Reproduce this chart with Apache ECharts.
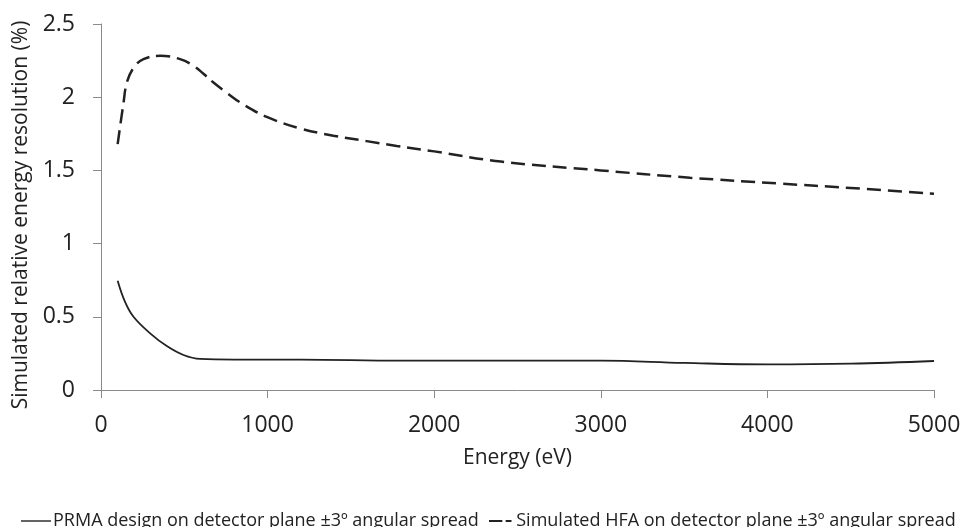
<!DOCTYPE html>
<html>
<head>
<meta charset="utf-8">
<script src="https://cdn.jsdelivr.net/npm/echarts@6/dist/echarts.min.js"></script>
<style>html,body{margin:0;padding:0;background:#fff}#c{width:969px;height:527px}</style>
</head>
<body>
<div id="c"></div>
<script>
var seriesNames = [
  "PRMA design on detector plane \u00b13\u00ba angular spread",
  "Simulated HFA on detector plane \u00b13\u00ba angular spread"
];
var prmaEnergy = [100, 145, 195, 295, 395, 495, 595, 800, 1200, 1800, 2500, 3000, 3500, 4000, 4500, 5000];
var prmaValues = [0.747, 0.60, 0.50, 0.387, 0.30, 0.239, 0.212, 0.208, 0.208, 0.200, 0.200, 0.200, 0.185, 0.175, 0.180, 0.198];
var hfaEnergy = [100, 135, 155, 195, 255, 355, 475, 555, 615, 675, 755, 855, 995, 1195, 1395, 1595, 1775, 2000, 2400, 3000, 3535, 4075, 4500, 5000];
var hfaValues = [1.68, 1.96, 2.10, 2.20, 2.26, 2.283, 2.26, 2.215, 2.16, 2.10, 2.03, 1.95, 1.865, 1.787, 1.737, 1.70, 1.667, 1.63, 1.56, 1.50, 1.45, 1.41, 1.38, 1.34];
var xTicks = [0, 1000, 2000, 3000, 4000, 5000];
var yTicks = [0, 0.5, 1, 1.5, 2, 2.5];

function pairs(xs, ys) { return xs.map(function (x, i) { return [x, ys[i]]; }); }

var FONT = "Open Sans";
var TXT = "#222";
var AX = "#8a8a8a";
var LINE = "#222";

var chart = echarts.init(document.getElementById('c'), null, {renderer: 'canvas'});
chart.setOption({
  animation: false,
  backgroundColor: '#fff',
  grid: {left: 101, right: 35, top: 24, bottom: 137, containLabel: false},
  xAxis: {
    type: 'value', min: xTicks[0], max: xTicks[xTicks.length - 1], interval: 1000,
    name: 'Energy (eV)', nameLocation: 'middle', nameGap: 58,
    nameTextStyle: {fontFamily: FONT, fontSize: 21, color: TXT},
    axisLine: {show: true, lineStyle: {color: AX, width: 1}},
    axisTick: {show: true, inside: false, length: 8, lineStyle: {color: AX}},
    axisLabel: {fontFamily: FONT, fontSize: 23, color: TXT, margin: 24,
      formatter: function (v) { return String(v); }},
    splitLine: {show: false}
  },
  yAxis: {
    type: 'value', min: yTicks[0], max: yTicks[yTicks.length - 1], interval: 0.5,
    name: 'Simulated relative energy resolution (%)', nameLocation: 'middle', nameGap: 65,
    nameTextStyle: {fontFamily: FONT, fontSize: 21, color: TXT, padding: [0, 16, 0, 0]},
    axisLine: {show: true, lineStyle: {color: AX, width: 1}},
    axisTick: {show: true, inside: false, length: 8, lineStyle: {color: AX}},
    axisLabel: {fontFamily: FONT, fontSize: 23, color: TXT, margin: 26},
    splitLine: {show: false}
  },
  legend: [
    {
      top: 507, left: 16, itemGap: 0, itemWidth: 30, itemHeight: 2,
      textStyle: {fontFamily: FONT, fontSize: 18, color: TXT, padding: [0, 0, 0, -3]},
      data: [{name: seriesNames[0], icon: 'path://M0,0H30V1.4H0Z', itemStyle: {color: LINE}}]
    },
    {
      top: 507, left: 484, itemGap: 0, itemWidth: 28, itemHeight: 2,
      textStyle: {fontFamily: FONT, fontSize: 18, color: TXT, padding: [0, 0, 0, -3]},
      data: [{name: seriesNames[1], icon: 'path://M0,0H16V2.4H0Z M20,0H27V2.4H20Z', itemStyle: {color: LINE}}]
    }
  ],
  series: [
    {
      name: seriesNames[0], type: 'line', smooth: 0.4, showSymbol: false, symbol: 'none',
      data: pairs(prmaEnergy, prmaValues),
      lineStyle: {color: LINE, width: 1.8}, itemStyle: {color: LINE}
    },
    {
      name: seriesNames[1], type: 'line', smooth: 0.4, showSymbol: false, symbol: 'none',
      data: pairs(hfaEnergy, hfaValues),
      lineStyle: {color: LINE, width: 2.5, type: [14, 7]}, itemStyle: {color: LINE}
    }
  ]
});
</script>
</body>
</html>
